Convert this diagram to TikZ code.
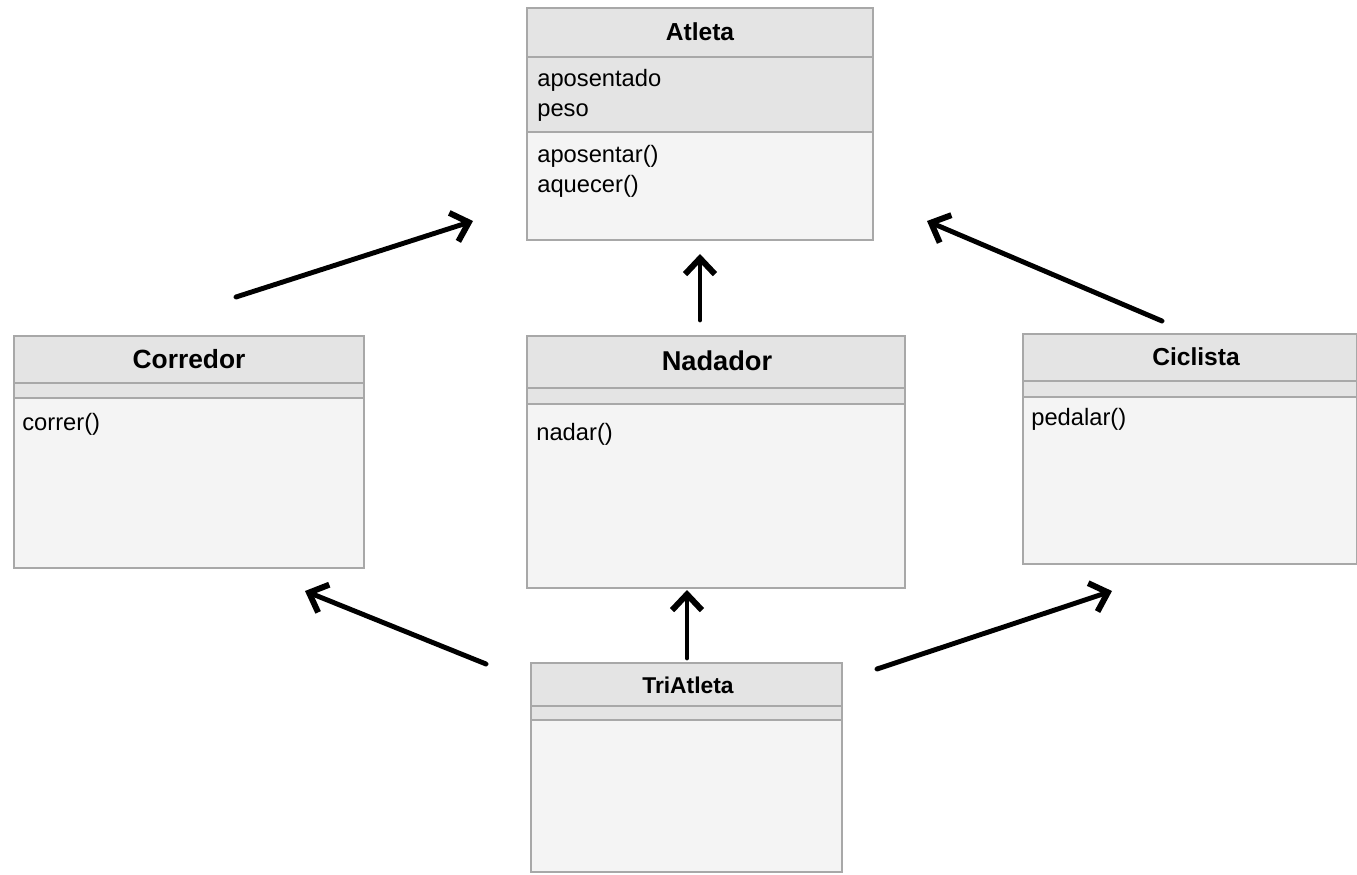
\documentclass[tikz,border=0pt]{standalone}
\usepackage{fontspec}
\setmainfont{Liberation Sans}
\usetikzlibrary{arrows.meta}
\definecolor{hdrgray}{HTML}{E4E4E4}
\definecolor{bodygray}{HTML}{F4F4F4}
\definecolor{linegray}{HTML}{A8A8A8}
\tikzset{
  hdr/.style={fill=hdrgray, draw=linegray, line width=0.6pt},
  body/.style={fill=bodygray, draw=linegray, line width=0.6pt},
  ctitle/.style={font=\fontsize{14}{17}\selectfont\bfseries, inner sep=0pt},
  member/.style={anchor=base west, inner sep=0pt, font=\fontsize{13.5}{16}\selectfont},
  inh/.style={-{Straight Barb[length=9pt, width=17pt, line width=3.4pt]}, line width=2.8pt, line cap=round}
}
\begin{document}
\begin{tikzpicture}[x=0.02cm, y=-0.02cm]
\useasboundingbox (0,0) rectangle (1357,875);
% Atleta
\draw[body] (527,132) rectangle (873,240);
\draw[hdr] (527,57) rectangle (873,132);
\draw[hdr] (527,8) rectangle (873,57);
\node[ctitle] (atleta) at (700,32) {Atleta};
\node[member] (aposentado) at (537,87) {aposentado};
\node[member] (peso) at (537,117) {peso};
\node[member] (aposentar) at (537,163) {aposentar()};
\node[member] (aquecer) at (537,193) {aquecer()};
% Corredor
\draw[body] (14,398) rectangle (364,568);
\draw[hdr] (14,383) rectangle (364,398);
\draw[hdr] (14,336) rectangle (364,383);
\node[ctitle, font=\fontsize{15}{18}\selectfont\bfseries] (corredor) at (189,359) {Corredor};
\node[member] (correr) at (22,430) {correr()};
% Nadador
\draw[body] (527,404) rectangle (905,588);
\draw[hdr] (527,388) rectangle (905,404);
\draw[hdr] (527,336) rectangle (905,388);
\node[ctitle, font=\fontsize{15.5}{18}\selectfont\bfseries] (nadador) at (717,361) {Nadador};
\node[member] (nadar) at (536,440) {nadar()};
% Ciclista
\draw[body] (1023,397) rectangle (1357,564);
\draw[hdr] (1023,381) rectangle (1357,397);
\draw[hdr] (1023,334) rectangle (1357,381);
\node[ctitle] (ciclista) at (1196,357) {Ciclista};
\node[member] (pedalar) at (1031,425) {pedalar()};
% TriAtleta
\draw[body] (531,720) rectangle (842,872);
\draw[hdr] (531,706) rectangle (842,720);
\draw[hdr] (531,663) rectangle (842,706);
\node[ctitle, font=\fontsize{13}{15}\selectfont\bfseries] (triatleta) at (688,685) {TriAtleta};
% heranca
\coordinate (c1) at (236,297); \coordinate (c2) at (473,221);
\coordinate (n1) at (700,320); \coordinate (n2) at (700,254);
\coordinate (p1) at (1162,321); \coordinate (p2) at (927,221);
\coordinate (t1) at (486,664); \coordinate (t2) at (305,591);
\coordinate (t3) at (687,658); \coordinate (t4) at (687,590);
\coordinate (t5) at (877,669); \coordinate (t6) at (1112,591);
\draw[inh] (c1) -- (c2);
\draw[inh] (n1) -- (n2);
\draw[inh] (p1) -- (p2);
\draw[inh] (t1) -- (t2);
\draw[inh] (t3) -- (t4);
\draw[inh] (t5) -- (t6);
\end{tikzpicture}
\end{document}
